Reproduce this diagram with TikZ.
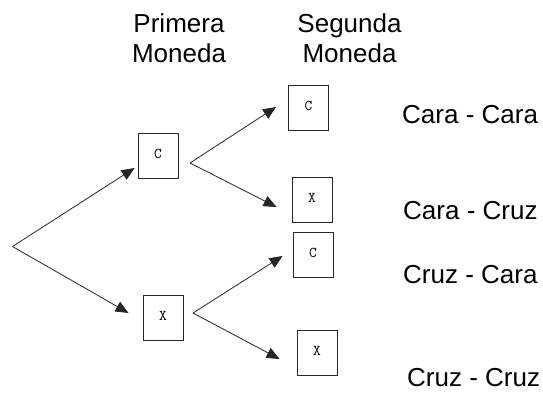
\documentclass[tikz,border=0pt]{standalone}
\usepackage{fontspec}
\setmainfont{Liberation Sans}
\usetikzlibrary{arrows.meta,calc}
\definecolor{ink}{gray}{0.15}
\begin{document}
\begin{tikzpicture}[x=1pt,y=-1pt,
  coin/.style={draw=ink, line width=0.9pt, minimum width=40pt, minimum height=45pt, inner sep=0pt, font=\ttfamily\fontsize{15}{16}\selectfont},
  head/.style={font=\fontsize{26}{30}\selectfont, anchor=base, inner sep=0pt},
  res/.style={font=\fontsize{26}{30}\selectfont, anchor=base west, inner sep=0pt},
  arr/.style={draw=ink, line width=0.8pt, -{Triangle[length=13pt,width=11pt]}}]
\useasboundingbox (0,0) rectangle (543,392);
% headings
\node[head] (h1a) at (179,32) {Primera};
\node[head] (h1b) at (179,62) {Moneda};
\node[head] (h2a) at (349.5,32) {Segunda};
\node[head] (h2b) at (349.5,62) {Moneda};
% coins
\node[coin] (c1) at (158,155.5) {\raisebox{3pt}{C}};
\node[coin] (x1) at (163,317.5) {\raisebox{3pt}{X}};
\node[coin] (c2) at (308.5,107.5) {\raisebox{3pt}{C}};
\node[coin] (x2) at (312,199.5) {\raisebox{3pt}{X}};
\node[coin] (c3) at (313,254.5) {\raisebox{3pt}{C}};
\node[coin] (x3) at (317,352.5) {\raisebox{3pt}{X}};
% branch points
\coordinate (a0) at (12.5,246.5);
\coordinate (a1) at (190,163);
\coordinate (a2) at (193,313);
% arrows
\draw[arr] (a0) -- ($(c1.west)+(-3,12.5)$);
\draw[arr] (a0) -- ($(x1.west)+(-14,-4.5)$);
\draw[arr] (a1) -- ($(c2.west)+(-12,-0.5)$);
\draw[arr] (a1) -- ($(x2.west)+(-15,7.5)$);
\draw[arr] (a2) -- ($(c3.west)+(-10,1.5)$);
\draw[arr] (a2) -- ($(x3.west)+(-17,6.5)$);
% results
\node[res] (r1) at (402,123) {Cara - Cara};
\node[res] (r2) at (403,219) {Cara - Cruz};
\node[res] (r3) at (403,283) {Cruz - Cara};
\node[res] (r4) at (407,386) {Cruz - Cruz};
\end{tikzpicture}
\end{document}
